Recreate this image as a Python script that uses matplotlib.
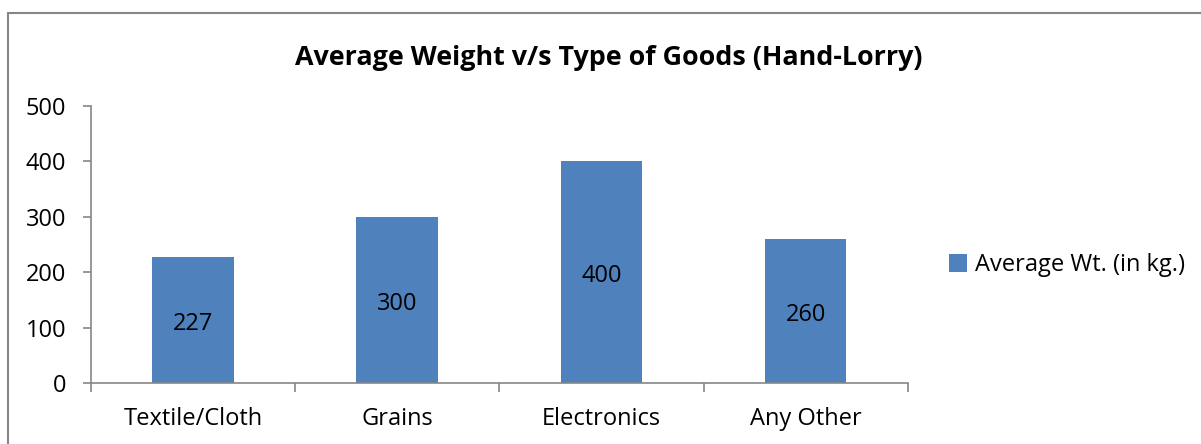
import matplotlib
matplotlib.use("Agg")
import matplotlib.pyplot as plt
import matplotlib.transforms as mtransforms
from matplotlib.patches import Rectangle

plt.rcParams['font.family'] = ['Open Sans', 'DejaVu Sans']

goods = ['Textile/Cloth', 'Grains', 'Electronics', 'Any Other']
avg_wt = [227, 300, 400, 260]
yticks = [0, 100, 200, 300, 400, 500]

bar_color = '#4F81BD'
axis_color = '#868686'

fig = plt.figure(figsize=(12.01, 4.44), dpi=100)
ax = fig.add_axes([0.0758, 0.1374, 0.680, 0.624])

x = list(range(len(goods)))
bars = ax.bar(x, avg_wt, width=0.40, color=bar_color, label='Average Wt. (in kg.)', zorder=2)

# value labels sit in the middle of each bar (nudged a touch down)
lbl_trans = mtransforms.offset_copy(ax.transData, fig=fig, x=0, y=-3, units='points')
for b, v in zip(bars, avg_wt):
    ax.text(b.get_x() + b.get_width() / 2, v / 2, str(v), ha='center', va='center',
            fontsize=17, color='black', transform=lbl_trans)

ax.set_xlim(-0.5, len(goods) - 0.5)
ax.set_ylim(0, 500)
ax.set_yticks(yticks)
ax.set_yticklabels([str(t) for t in yticks], fontsize=17)

# category names centred, tick marks on the category boundaries
ax.set_xticks([i - 0.5 for i in range(len(goods) + 1)])
ax.set_xticklabels([])
ax.set_xticks(x, minor=True)
ax.set_xticklabels(goods, minor=True, fontsize=17)
ax.tick_params(axis='x', which='minor', length=0, pad=17)
ax.tick_params(axis='x', which='major', length=6.5, width=1.2, color=axis_color, direction='out')
ax.tick_params(axis='y', length=6, width=1.2, color=axis_color, direction='out', pad=12)

for s in ['top', 'right']:
    ax.spines[s].set_visible(False)
for s in ['left', 'bottom']:
    ax.spines[s].set_color(axis_color)
    ax.spines[s].set_linewidth(1.2)

fig.text(0.507, 0.87, 'Average Weight v/s Type of Goods (Hand-Lorry)', ha='center', va='center',
         fontsize=19.4, fontweight='bold')

ax.legend(loc='center left', bbox_to_anchor=(1.025, 0.425), frameon=False, fontsize=17,
          handlelength=0.75, handleheight=0.75, handletextpad=0.35)

# chart frame, running off the right and bottom edges
fig.patches.append(Rectangle((8 / 1201, -0.1), 1.2, 0.1 + (444 - 13.5) / 444,
                             transform=fig.transFigure, fill=False,
                             edgecolor=axis_color, linewidth=1.5))

fig.savefig('out.png', dpi=100)
